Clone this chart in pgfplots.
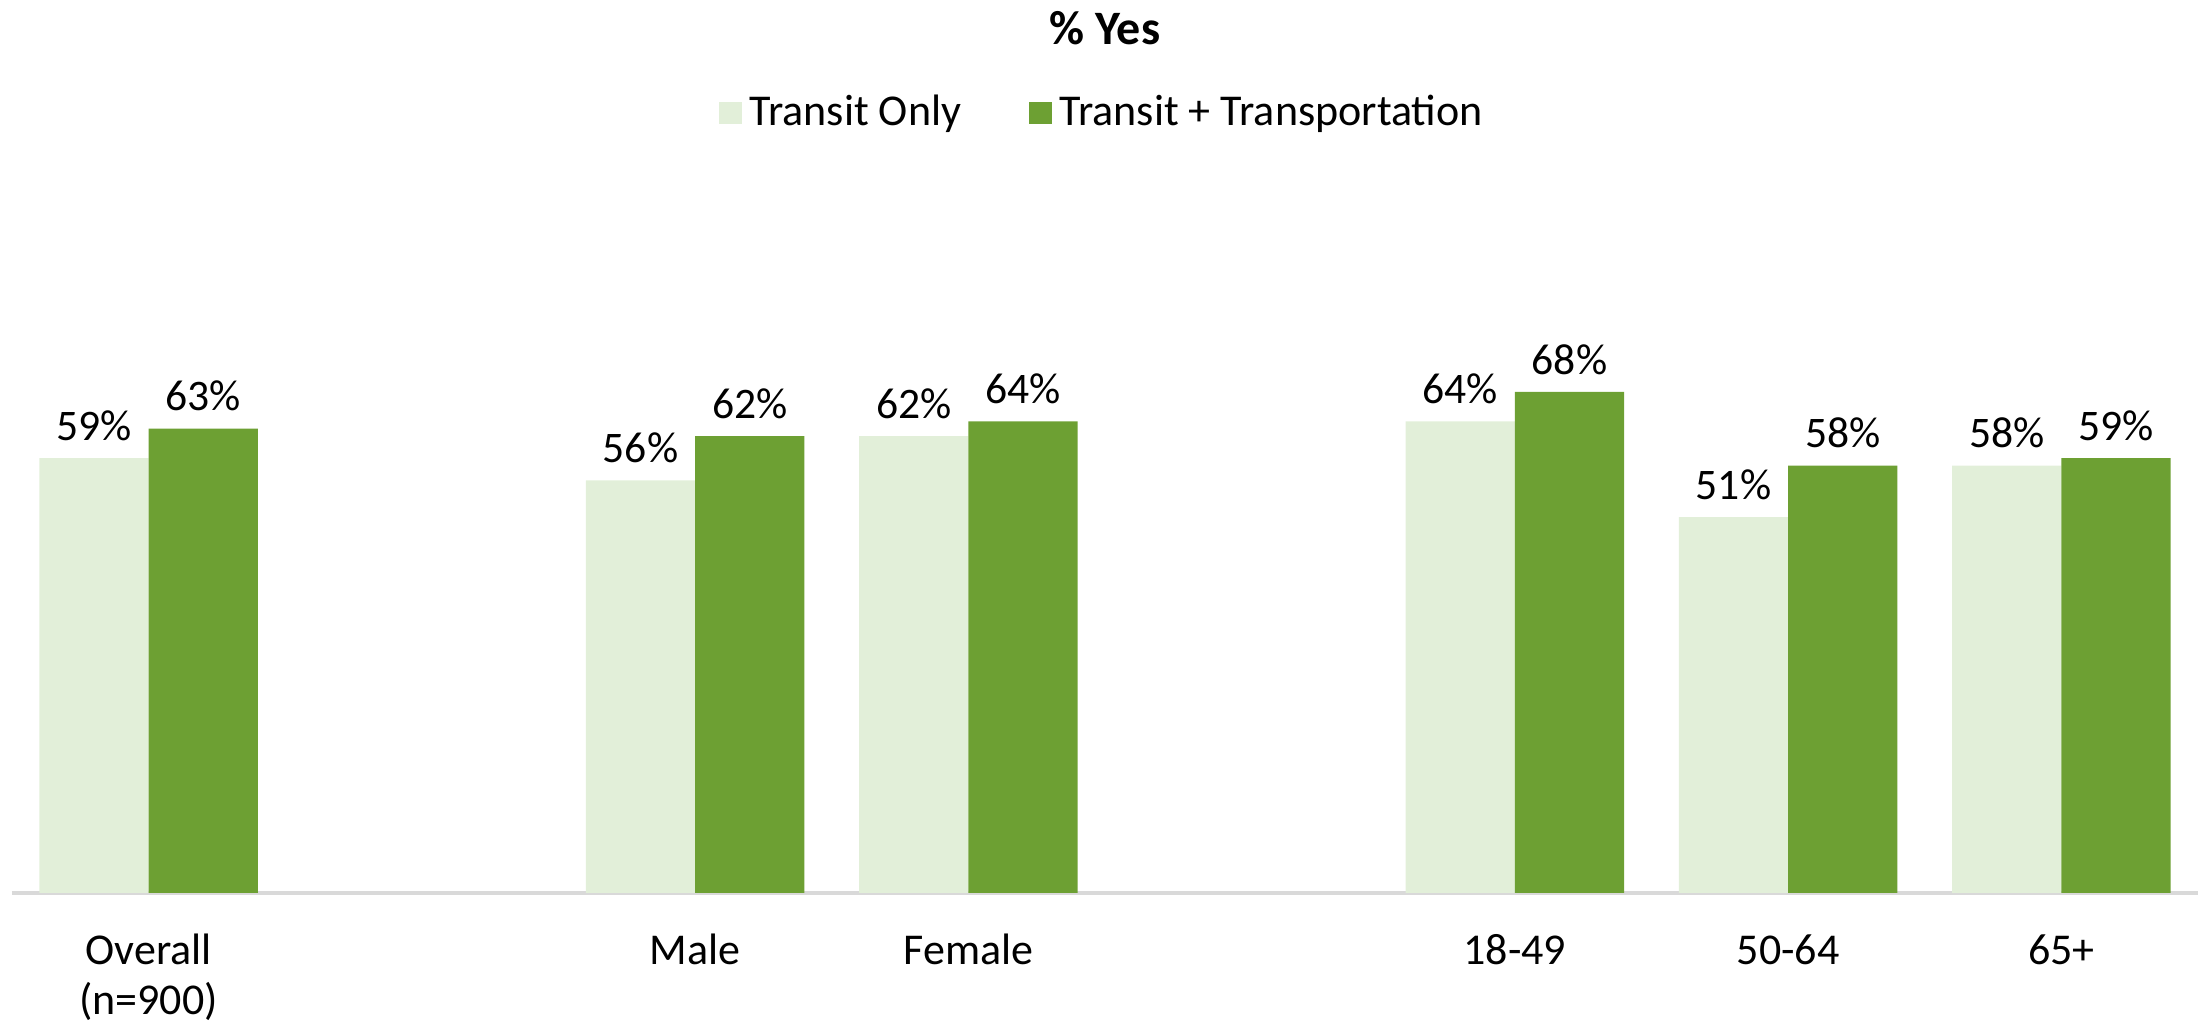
\documentclass[border=0pt]{standalone}
\usepackage{fontspec}
\setmainfont{Carlito}
\usepackage{pgfplots}
\pgfplotsset{compat=1.18}
\definecolor{lightg}{RGB}{226,239,217}
\definecolor{darkg}{RGB}{109,160,51}
\begin{document}
\begin{tikzpicture}
\useasboundingbox (0,0) rectangle (551.5pt,256.25pt);
\begin{axis}[
  at={(3pt,33pt)}, anchor=south west,
  scale only axis, width=546.5pt, height=184.25pt,
  ymin=0, ymax=100, xmin=-0.5, xmax=7.5,
  axis y line=none, axis x line=bottom,
  x axis line style={-, draw=black!15, line width=0.8pt},
  xtick={0,2,3,5,6,7},
  xticklabels={{Overall\\(n=900)},Male,Female,18-49,50-64,65+},
  xtick style={draw=none}, major tick length=0pt,
  xticklabel style={align=center, font=\fontsize{11}{12.5}\selectfont, yshift=-6.8pt, anchor=north},
  ybar=0pt, bar width=27.32pt,
  /pgf/number format/assume math mode=true,
  nodes near coords={\pgfmathprintnumber{\pgfplotspointmeta}\%},
  nodes near coords style={font=\fontsize{10.9}{12}\selectfont, black, anchor=south, yshift=0.8pt},
  clip=false,
  title={\% Yes},
  title style={at={(0.5,1.1737)}, anchor=center, yshift=-6pt, font=\fontsize{12}{14}\bfseries\selectfont},
  legend columns=2,
  legend style={at={(0.5,1.058)}, anchor=center, draw=none, fill=none,
    font=\fontsize{11}{12}\selectfont,
    /tikz/every even column/.append style={column sep=15pt}},
  legend image code/.code={\fill[#1] (0pt,-2.8pt) rectangle (5.6pt,2.8pt);},
]
\addplot[fill=lightg, draw=none, bar shift=-13.66pt] coordinates {(0,59) (2,56) (3,62) (5,64) (6,51) (7,58)};
\addplot[fill=darkg, draw=none, bar shift=13.66pt] coordinates {(0,63) (2,62) (3,64) (5,68) (6,58) (7,59)};
\legend{Transit Only, Transit + Transportation}
\end{axis}
\end{tikzpicture}
\end{document}
